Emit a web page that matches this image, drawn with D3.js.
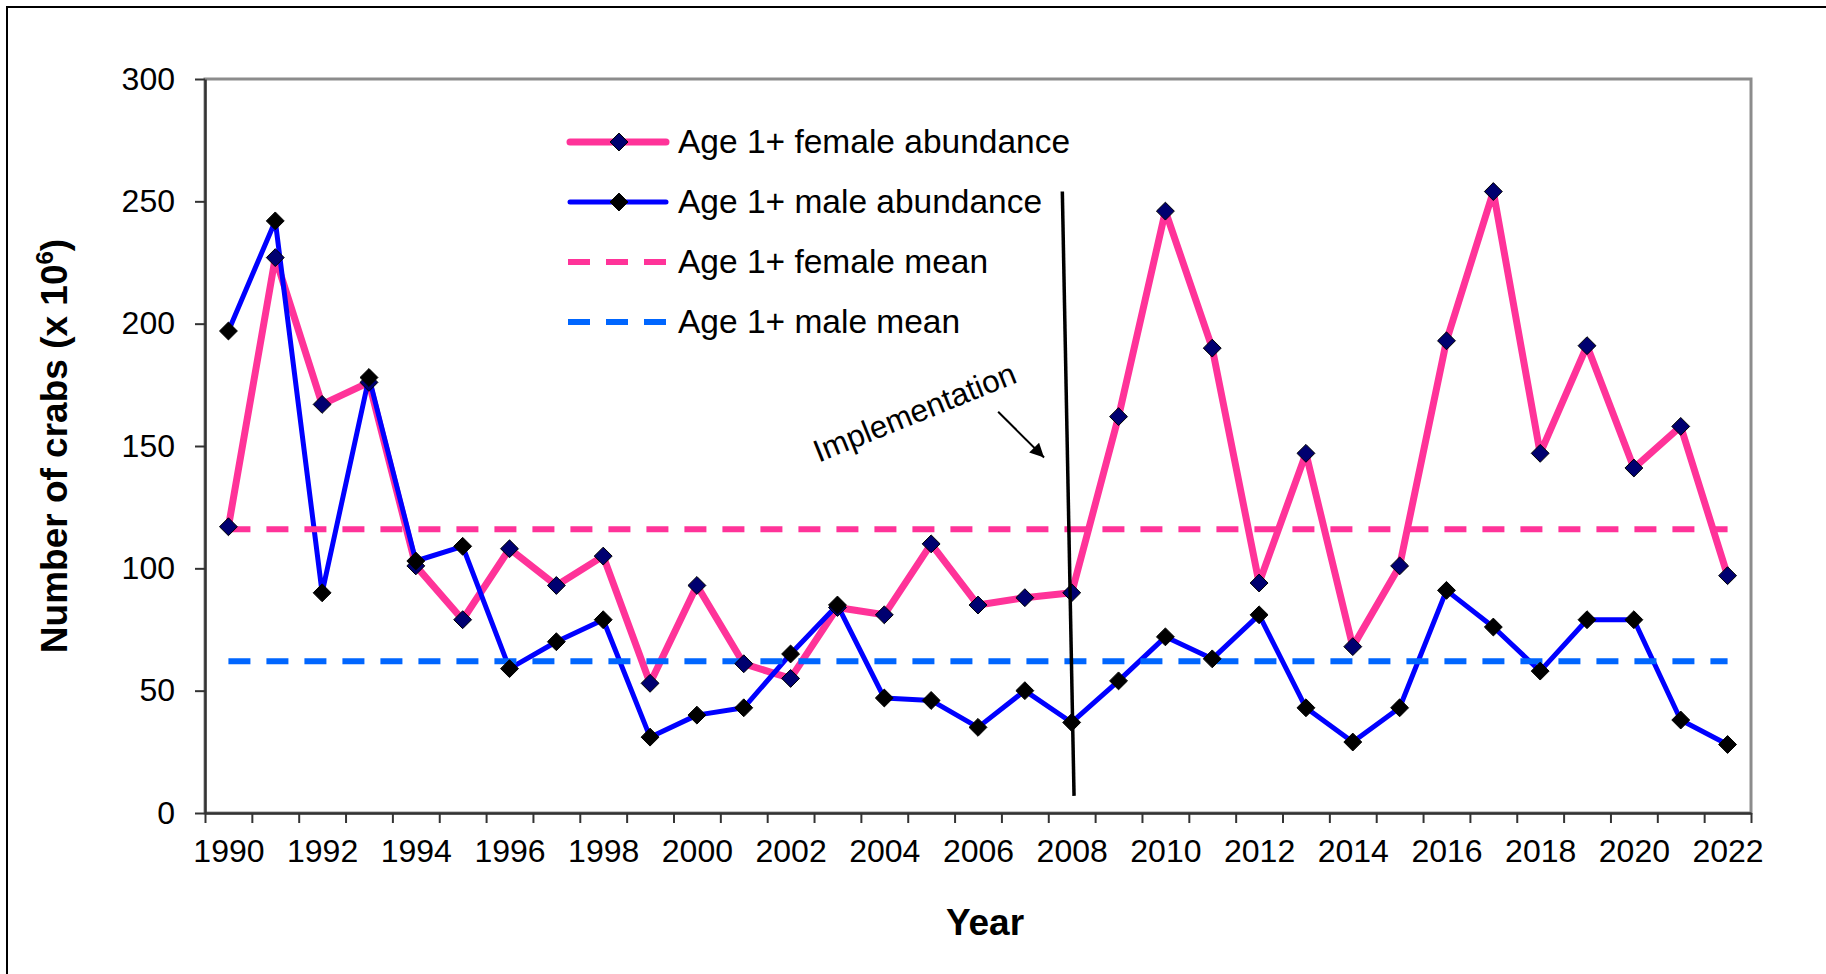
<!DOCTYPE html>
<html>
<head>
<meta charset="utf-8">
<script src="https://cdn.jsdelivr.net/npm/d3@7"></script>
<style>
  body { margin: 0; background: #fff; }
  text { font-family: "Liberation Sans", Arial, sans-serif; fill: #000; }
</style>
</head>
<body>
<div id="chart"></div>
<script>
var years = [1990, 1991, 1992, 1993, 1994, 1995, 1996, 1997, 1998, 1999, 2000,
  2001, 2002, 2003, 2004, 2005, 2006, 2007, 2008, 2009, 2010,
  2011, 2012, 2013, 2014, 2015, 2016, 2017, 2018, 2019, 2020, 2021, 2022];

var femaleAbundance = [117, 227, 167, 176, 101, 79, 108, 93, 105, 53, 93,
  61, 55, 84, 81, 110, 85, 88, 90, 162, 246,
  190, 94, 147, 68, 101, 193, 254, 147, 191, 141, 158, 97];

var maleAbundance = [197, 242, 90, 178, 103, 109, 59, 70, 79, 31, 40,
  43, 65, 85, 47, 46, 35, 50, 37, 54, 72,
  63, 81, 43, 29, 43, 91, 76, 58, 79, 79, 38, 28];

var femaleMean = 116;
var maleMean = 62;

var yTicks = [0, 50, 100, 150, 200, 250, 300];
var yearLabels = [1990, 1992, 1994, 1996, 1998, 2000, 2002, 2004, 2006, 2008, 2010,
  2012, 2014, 2016, 2018, 2020, 2022];

var legendLabels = ["Age 1+ female abundance", "Age 1+ male abundance",
  "Age 1+ female mean", "Age 1+ male mean"];

var svgWidth = 1826;
var svgHeight = 974;

var plot = { left: 205, right: 1751, top: 79, bottom: 813 };

var pink = "#ff3399";
var blue = "#0000ff";
var lightBlue = "#0066ff";

var svg = d3.select("#chart")
  .append("svg")
  .attr("width", svgWidth)
  .attr("height", svgHeight);

// outer frame (only top/left edges fall inside the picture)
svg.append("rect")
  .attr("x", 7).attr("y", 7)
  .attr("width", svgWidth + 20).attr("height", svgHeight + 20)
  .attr("fill", "none")
  .attr("stroke", "#000")
  .attr("stroke-width", 2);

var xScale = d3.scaleLinear()
  .domain([1989.5, 2022.5])
  .range([plot.left, plot.right]);

var yScale = d3.scaleLinear()
  .domain([0, 300])
  .range([plot.bottom, plot.top]);

// plot area border (top / right in grey)
svg.append("rect")
  .attr("x", plot.left).attr("y", plot.top)
  .attr("width", plot.right - plot.left)
  .attr("height", plot.bottom - plot.top)
  .attr("fill", "none")
  .attr("stroke", "#8c8c8c")
  .attr("stroke-width", 3);

// y axis
var yAxis = d3.axisLeft(yScale).tickValues(yTicks).tickSize(10).tickPadding(20).tickSizeOuter(0);
var yG = svg.append("g")
  .attr("transform", `translate(${plot.left}, 0)`)
  .call(yAxis);
yG.select(".domain").attr("stroke", "#333").attr("stroke-width", 2.5);
yG.selectAll(".tick line").attr("stroke", "#333").attr("stroke-width", 2);
yG.selectAll(".tick text")
  .attr("font-size", 32)
  .attr("font-family", "Liberation Sans, Arial, sans-serif")
  .attr("fill", "#000");

// x axis: ticks on year boundaries
var boundaries = years.map(d => d - 0.5).concat([years[years.length - 1] + 0.5]);
var xTickAxis = d3.axisBottom(xScale).tickValues(boundaries).tickSize(10).tickFormat("").tickSizeOuter(0);
var xG = svg.append("g")
  .attr("transform", `translate(0, ${plot.bottom})`)
  .call(xTickAxis);
xG.select(".domain").attr("stroke", "#333").attr("stroke-width", 2.5);
xG.selectAll(".tick line").attr("stroke", "#333").attr("stroke-width", 2);

// x labels: every second year, centred on the year
var xLabelAxis = d3.axisBottom(xScale).tickValues(yearLabels).tickSize(0).tickPadding(26).tickFormat(d3.format("d"));
var xL = svg.append("g")
  .attr("transform", `translate(0, ${plot.bottom})`)
  .call(xLabelAxis);
xL.select(".domain").remove();
xL.selectAll(".tick text")
  .attr("font-size", 32)
  .attr("font-family", "Liberation Sans, Arial, sans-serif")
  .attr("fill", "#000");

// axis titles
var yTitle = svg.append("text")
  .attr("transform", `translate(67, ${(plot.top + plot.bottom) / 2}) rotate(-90)`)
  .attr("text-anchor", "middle")
  .attr("font-size", 37)
  .attr("font-weight", "bold");
yTitle.append("tspan").text("Number of crabs (x 10");
yTitle.append("tspan").attr("font-size", 24).attr("dy", -14).text("6");
yTitle.append("tspan").attr("dy", 14).text(")");

svg.append("text")
  .attr("x", 985)
  .attr("y", 935)
  .attr("text-anchor", "middle")
  .attr("font-size", 37)
  .attr("font-weight", "bold")
  .text("Year");

var diamond = {
  draw: function(context, size) {
    var r = Math.sqrt(size / 2);
    context.moveTo(0, -r);
    context.lineTo(r, 0);
    context.lineTo(0, r);
    context.lineTo(-r, 0);
    context.closePath();
  }
};
var marker = d3.symbol().type(diamond).size(160);

var femaleData = years.map((y, i) => ({ year: y, value: femaleAbundance[i] }));
var maleData = years.map((y, i) => ({ year: y, value: maleAbundance[i] }));

var line = d3.line()
  .x(d => xScale(d.year))
  .y(d => yScale(d.value));

svg.append("path")
  .datum(femaleData)
  .attr("d", line)
  .attr("fill", "none")
  .attr("stroke", pink)
  .attr("stroke-width", 7)
  .attr("stroke-linejoin", "round");

svg.append("path")
  .datum(maleData)
  .attr("d", line)
  .attr("fill", "none")
  .attr("stroke", blue)
  .attr("stroke-width", 5)
  .attr("stroke-linejoin", "round");

// mean lines
[[femaleMean, pink], [maleMean, lightBlue]].forEach(function(m) {
  svg.append("line")
    .attr("x1", xScale(years[0]))
    .attr("x2", xScale(years[years.length - 1]))
    .attr("y1", yScale(m[0]))
    .attr("y2", yScale(m[0]))
    .attr("stroke", m[1])
    .attr("stroke-width", 6)
    .attr("stroke-dasharray", "22,16");
});

svg.selectAll(".fmark")
  .data(femaleData)
  .enter()
  .append("path")
  .attr("class", "fmark")
  .attr("d", marker)
  .attr("transform", d => `translate(${xScale(d.year)}, ${yScale(d.value)})`)
  .attr("fill", "#000070")
  .attr("stroke", "#000")
  .attr("stroke-width", 1);

svg.selectAll(".mmark")
  .data(maleData)
  .enter()
  .append("path")
  .attr("class", "mmark")
  .attr("d", marker)
  .attr("transform", d => `translate(${xScale(d.year)}, ${yScale(d.value)})`)
  .attr("fill", "#000")
  .attr("stroke", "#000")
  .attr("stroke-width", 1);

// implementation annotation
svg.append("line")
  .attr("x1", xScale(2007.8)).attr("y1", yScale(254))
  .attr("x2", xScale(2008.05)).attr("y2", yScale(7))
  .attr("stroke", "#000")
  .attr("stroke-width", 3.5);

svg.append("defs").append("marker")
  .attr("id", "arrow")
  .attr("viewBox", "0 0 10 10")
  .attr("refX", 10).attr("refY", 5)
  .attr("markerWidth", 9).attr("markerHeight", 7)
  .attr("markerUnits", "strokeWidth")
  .attr("orient", "auto")
  .append("path")
  .attr("d", "M0,0 L10,5 L0,10 Z")
  .attr("fill", "#000");

svg.append("line")
  .attr("x1", xScale(2006.43)).attr("y1", yScale(164))
  .attr("x2", xScale(2007.41)).attr("y2", yScale(145.3))
  .attr("stroke", "#000")
  .attr("stroke-width", 2)
  .attr("marker-end", "url(#arrow)");

svg.append("text")
  .attr("transform", `translate(${xScale(2002.6)}, ${yScale(143.2)}) rotate(-22)`)
  .attr("font-size", 31.5)
  .text("Implementation");

// legend
var legend = svg.append("g").attr("transform", "translate(568, 142)");
var legendStyle = [
  { color: pink, width: 7, dash: null, mark: "#000070" },
  { color: blue, width: 5, dash: null, mark: "#000" },
  { color: pink, width: 6, dash: "22,16", mark: null },
  { color: lightBlue, width: 6, dash: "22,16", mark: null }
];
legendLabels.forEach(function(label, i) {
  var s = legendStyle[i];
  var row = legend.append("g").attr("transform", `translate(0, ${i * 60})`);
  row.append("line")
    .attr("x1", s.dash ? 0 : 2).attr("x2", s.dash ? 100 : 98)
    .attr("y1", 0).attr("y2", 0)
    .attr("stroke", s.color)
    .attr("stroke-width", s.width)
    .attr("stroke-linecap", s.dash ? "butt" : "round")
    .attr("stroke-dasharray", s.dash);
  if (s.mark) {
    row.append("path")
      .attr("d", marker)
      .attr("transform", "translate(51, 0)")
      .attr("fill", s.mark)
      .attr("stroke", "#000")
      .attr("stroke-width", 1);
  }
  row.append("text")
    .attr("x", 110)
    .attr("y", 11)
    .attr("font-size", 33.5)
    .text(label);
});
</script>
</body>
</html>
